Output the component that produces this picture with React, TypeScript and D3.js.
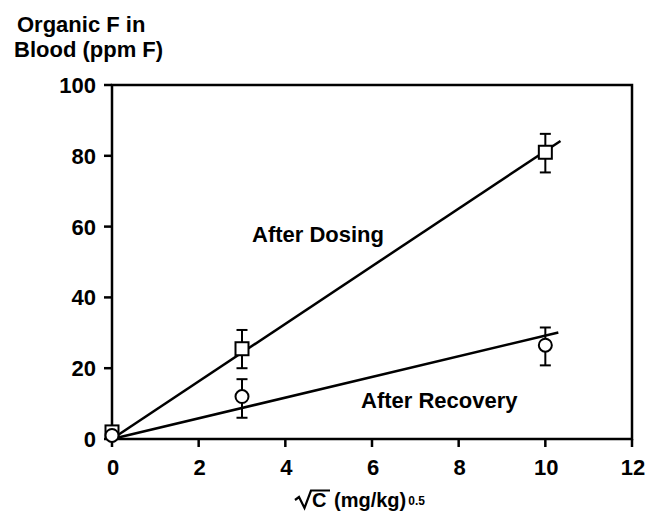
import React from "react";
import * as d3 from "d3";

// sqrt of dose, mg/kg^0.5
const doses = [0, 3, 10];
// organic F in blood (ppm F) after dosing, with error range
const dosingMean = [2, 25.5, 81];
const dosingLow = [null, 20, 75.3];
const dosingHigh = [null, 30.8, 86.2];
// after recovery
const recoveryMean = [1, 12, 26.5];
const recoveryLow = [null, 6, 20.8];
const recoveryHigh = [null, 16.9, 31.5];
// fitted lines (endpoints)
const dosingFit = [[0, 0], [10.35, 84.2]];
const recoveryFit = [[0, 0], [10.3, 30.1]];

const xTicks = [0, 2, 4, 6, 8, 10, 12];
const yTicks = [0, 20, 40, 60, 80, 100];

const W = 648;
const H = 516;
const FONT = "'Liberation Sans', Arial, Helvetica, sans-serif";

const App = () => {
  const x = d3.scaleLinear().domain([0, 12]).range([112, 632]);
  const y = d3.scaleLinear().domain([0, 100]).range([439, 85]);
  const line = d3.line<number[]>().x((d) => x(d[0])).y((d) => y(d[1]));

  const errorBars = (lo, hi) =>
    doses.map((d, i) =>
      lo[i] == null ? null : (
        <g key={"e" + i} stroke="#000" strokeWidth={2}>
          <line x1={x(d)} x2={x(d)} y1={y(lo[i])} y2={y(hi[i])} />
          <line x1={x(d) - 5.5} x2={x(d) + 5.5} y1={y(lo[i])} y2={y(lo[i])} />
          <line x1={x(d) - 5.5} x2={x(d) + 5.5} y1={y(hi[i])} y2={y(hi[i])} />
        </g>
      )
    );

  return (
    <svg
      width={W}
      height={H}
      style={{ position: "absolute", left: 0, top: 0, background: "#fff" }}
      fontFamily={FONT}
      fontWeight="bold"
    >
      {/* y title */}
      <text x={17} y={32} fontSize={22}>Organic F in</text>
      <text x={14} y={57} fontSize={22}>Blood (ppm F)</text>

      {/* frame */}
      <rect
        x={x(0)}
        y={y(100)}
        width={x(12) - x(0)}
        height={y(0) - y(100)}
        fill="none"
        stroke="#000"
        strokeWidth={2.5}
      />

      {/* y axis */}
      {yTicks.map((t) => (
        <g key={"y" + t}>
          <line x1={x(0) - 8} x2={x(0)} y1={y(t)} y2={y(t)} stroke="#000" strokeWidth={2.5} />
          <text x={x(0) - 16} y={y(t) + 8} fontSize={22} textAnchor="end">
            {t}
          </text>
        </g>
      ))}

      {/* x axis */}
      {xTicks.map((t) => (
        <g key={"x" + t}>
          <line x1={x(t)} x2={x(t)} y1={y(0)} y2={y(0) + 8} stroke="#000" strokeWidth={2.5} />
          <text x={x(t) + 1} y={475} fontSize={22} textAnchor="middle">
            {t}
          </text>
        </g>
      ))}

      {/* x title: sqrt(C) (mg/kg)^0.5 */}
      <path d="M295,500 L299,497 L304.5,508 L311,490.5 L330,490.5" fill="none" stroke="#000" strokeWidth={2.2} />
      <text x={312} y={507} fontSize={20}>
        <tspan>C</tspan>
        <tspan x={334}>(mg/kg)</tspan>
        <tspan dx={2} dy={-2} fontSize={12}>0.5</tspan>
      </text>

      {/* fits */}
      <path d={line(dosingFit)} fill="none" stroke="#000" strokeWidth={2.5} />
      <path d={line(recoveryFit)} fill="none" stroke="#000" strokeWidth={2.5} />

      {/* error bars */}
      {errorBars(dosingLow, dosingHigh)}
      {errorBars(recoveryLow, recoveryHigh)}

      {/* points */}
      {doses.map((d, i) => (
        <rect
          key={"s" + i}
          x={x(d) - 6.5}
          y={y(dosingMean[i]) - 6.5}
          width={13}
          height={13}
          fill="#fff"
          stroke="#000"
          strokeWidth={2}
        />
      ))}
      {doses.map((d, i) => (
        <circle
          key={"c" + i}
          cx={x(d)}
          cy={y(recoveryMean[i])}
          r={6.5}
          fill="#fff"
          stroke="#000"
          strokeWidth={2}
        />
      ))}

      {/* annotations */}
      <text x={252} y={242} fontSize={22}>After Dosing</text>
      <text x={361} y={408} fontSize={22}>After Recovery</text>
    </svg>
  );
};

export default App;
